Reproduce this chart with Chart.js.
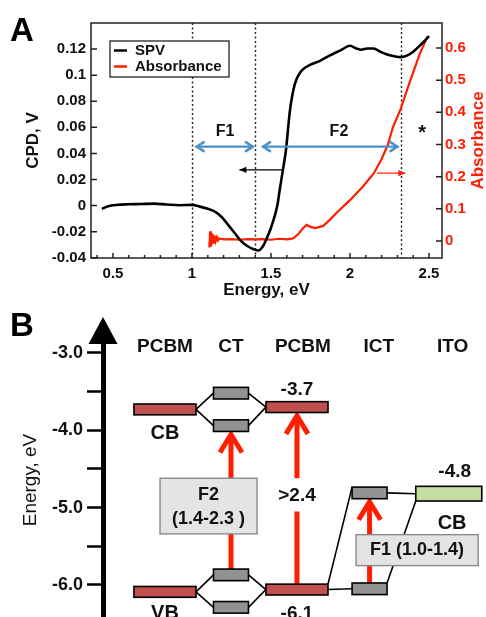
<!DOCTYPE html>
<html>
<head>
<meta charset="utf-8">
<script src="https://cdn.jsdelivr.net/npm/chart.js@4.4.1/dist/chart.umd.min.js"></script>
<style>
  body{margin:0;background:#fff}
  #wrap{position:relative;width:486px;height:617px;overflow:hidden;background:#fff}
  .pane{position:absolute;left:0}
  .letter{position:absolute;font:bold 33px "Liberation Sans",Arial,sans-serif;line-height:1;color:#000}
</style>
</head>
<body>
<div id="wrap">
  <canvas id="chartB" class="pane" style="top:300px" width="486" height="317"></canvas>
  <canvas id="chartA" class="pane" style="top:0" width="486" height="310"></canvas>
  <div class="letter" style="left:10px;top:13px">A</div>
  <div class="letter" style="left:10px;top:308px">B</div>
</div>
<script>
// ─── DATA: PANEL A (SPV + absorbance) ───────────────────────────────
const spvEnergy = [0.43,0.47,0.52,0.60,0.68,0.76,0.84,0.92,1.00,1.05,
                   1.10,1.15,1.19,1.23,1.27,1.31,1.35,1.39,1.42,1.45,
                   1.47,1.50,1.54,1.555,1.575,1.595,1.62,1.65,1.69,1.75,
                   1.81,1.87,1.94,2.00,2.04,2.07,2.11,2.15,2.19,2.23,
                   2.28,2.32,2.36,2.40,2.44,2.47,2.50];
const spvCPD    = [-0.0025,-0.0005,0.0005,0.0010,0.0012,0.0015,0.0008,0.0003,0.0005,-0.0008,
                   -0.0025,-0.0050,-0.0090,-0.0150,-0.0210,-0.0270,-0.0310,-0.0335,-0.0345,-0.0310,
                   -0.0260,-0.0170,0.0000,0.0120,0.0270,0.0430,0.0730,0.0930,0.1030,0.1080,
                   0.1110,0.1150,0.1190,0.1225,0.1205,0.1195,0.1205,0.1205,0.1180,0.1160,
                   0.1145,0.1138,0.1150,0.1180,0.1225,0.1260,0.1300];
const absEnergy = [1.110,1.115,1.120,1.125,1.130,1.135,1.140,1.145,1.150,1.158,
                   1.165,1.172,1.20,1.25,1.30,1.35,1.40,1.45,1.50,1.55,
                   1.60,1.64,1.67,1.70,1.725,1.75,1.78,1.83,1.87,1.92,
                   2.00,2.08,2.15,2.20,2.24,2.27,2.32,2.38,2.44,2.49];
const absValue  = [-0.020,0.030,-0.018,0.025,-0.010,0.020,-0.004,0.016,0.000,0.012,
                   0.002,0.008,0.005,0.006,0.004,0.006,0.005,0.006,0.004,0.007,
                   0.005,0.008,0.020,0.038,0.050,0.044,0.040,0.047,0.065,0.090,
                   0.127,0.169,0.210,0.255,0.300,0.352,0.410,0.497,0.580,0.636];
const xTickLabels = [0.5, 1, 1.5, 2, 2.5];
const cpdTicks = [-0.04, -0.02, 0, 0.02, 0.04, 0.06, 0.08, 0.1, 0.12];
const absTicks = [0, 0.1, 0.2, 0.3, 0.4, 0.5, 0.6];
const regionEdges = [1.0, 1.4, 2.32];          // dotted lines, eV
const bandArrows = [                           // blue double arrows, eV
  {label: 'F1', from: 1.03, to: 1.385, labelAt: 1.21},
  {label: 'F2', from: 1.45, to: 2.30, labelAt: 1.93}
];

// ─── DATA: PANEL B (energy levels, eV) ──────────────────────────────
const columns = ['PCBM', 'CT', 'PCBM', 'ICT', 'ITO'];
const pcbmLeft  = [-3.73, -6.09];              // CB, VB
const pcbmRight = [-3.70, -6.06];              // CB, VB
const ctLevels  = [-3.52, -3.94, -5.87, -6.29];
const ictLevels = [-4.81, -6.05];
const itoLevels = [-4.82];
const energyTicks = [-6.0, -5.5, -5.0, -4.5, -4.0, -3.5, -3.0];
const transitions = [                          // red arrows: column, from, to
  {col: 1, from: -5.87, to: -3.94},
  {col: 2, from: -6.06, to: -3.70},
  {col: 3, from: -6.05, to: -4.81}
];

// ─── LAYOUT / STYLE ─────────────────────────────────────────────────
const FONT = '"Liberation Sans", Arial, Helvetica, sans-serif';
const RED = '#ff1e00';
const colX = [0, 1, 2, 3.1, 4.3];              // column centres (column units)
const headX = [0, 1, 2.09, 3.24, 4.36];
Chart.defaults.font.family = FONT;
Chart.defaults.color = '#111';

function txt(ctx, s, x, y, font, color, align, rot){
  ctx.save();
  ctx.font = font; ctx.fillStyle = color || '#111';
  ctx.textAlign = align || 'center'; ctx.textBaseline = 'middle';
  ctx.translate(x, y); if(rot) ctx.rotate(rot);
  ctx.fillText(s, 0, 0);
  ctx.restore();
}

function arrow(ctx, x0, y0, x1, y1, o){
  ctx.save();
  ctx.strokeStyle = ctx.fillStyle = o.color;
  ctx.lineWidth = o.width; ctx.lineCap = o.cap || 'butt'; ctx.lineJoin = 'miter';
  ctx.beginPath(); ctx.moveTo(x0, y0); ctx.lineTo(x1, y1); ctx.stroke();
  const heads = o.both ? [[x0,y0,x1,y1],[x1,y1,x0,y0]] : [[x0,y0,x1,y1]];
  heads.forEach(([ax,ay,bx,by]) => {
    const ang = Math.atan2(by-ay, bx-ax), c = Math.cos(ang), s = Math.sin(ang);
    ctx.beginPath();
    ctx.moveTo(bx - o.head*c + o.half*s, by - o.head*s - o.half*c);
    ctx.lineTo(bx, by);
    ctx.lineTo(bx - o.head*c - o.half*s, by - o.head*s + o.half*c);
    if(o.filled){ ctx.closePath(); ctx.fill(); } else ctx.stroke();
  });
  ctx.restore();
}

// ─── PANEL A ────────────────────────────────────────────────────────
const panelA = {
  id: 'panelA',
  beforeDatasetsDraw(chart){
    const {ctx, chartArea: a, scales: {x}} = chart;
    ctx.save();
    ctx.strokeStyle = '#222'; ctx.lineWidth = 1.4; ctx.setLineDash([2, 2.5]);
    regionEdges.forEach(e => {
      const px = Math.round(x.getPixelForValue(e)) + 0.5;
      ctx.beginPath(); ctx.moveTo(px, a.top); ctx.lineTo(px, a.bottom); ctx.stroke();
    });
    ctx.restore();
  },
  afterDatasetsDraw(chart){
    const {ctx, chartArea: a, scales: {x, y, y2}} = chart;
    // frame + inward ticks
    ctx.save();
    ctx.strokeStyle = '#222'; ctx.lineWidth = 1.5;
    ctx.strokeRect(a.left, a.top, a.right - a.left, a.bottom - a.top);
    ctx.beginPath();
    for(let k = 4; k <= 25; k++){
      const px = x.getPixelForValue(k/10), len = k % 5 === 0 ? 5 : 3;
      ctx.moveTo(px, a.bottom); ctx.lineTo(px, a.bottom - len);
    }
    cpdTicks.forEach(v => { const py = y.getPixelForValue(v); ctx.moveTo(a.left, py); ctx.lineTo(a.left + 6, py); });
    absTicks.forEach(v => { const py = y2.getPixelForValue(v); ctx.moveTo(a.right, py); ctx.lineTo(a.right - 6, py); });
    ctx.stroke();
    ctx.restore();

    // band arrows F1 / F2
    const yb = y.getPixelForValue(0.0452), yl = y.getPixelForValue(0.0565);
    bandArrows.forEach(b => {
      arrow(ctx, x.getPixelForValue(b.from), yb, x.getPixelForValue(b.to), yb,
            {color: '#4a92c9', width: 2.4, head: 7, half: 4.5, both: true, cap: 'round'});
      txt(ctx, b.label, x.getPixelForValue(b.labelAt), yl, 'bold 16px ' + FONT, '#111');
    });
    // axis pointers
    const yk = y.getPixelForValue(0.0274);
    arrow(ctx, x.getPixelForValue(1.57), yk, x.getPixelForValue(1.30), yk,
          {color: '#000', width: 1.2, head: 7, half: 3.2, filled: true});
    const yr = y2.getPixelForValue(0.211);
    arrow(ctx, x.getPixelForValue(2.17), yr, x.getPixelForValue(2.35), yr,
          {color: RED, width: 1.2, head: 7, half: 3.2, filled: true});
    txt(ctx, '*', x.getPixelForValue(2.456), y.getPixelForValue(0.055), 'bold 20px ' + FONT, '#111');

    // legend box
    const lx = a.left + 19, ly = a.top + 18;
    ctx.save();
    ctx.fillStyle = '#fff'; ctx.fillRect(lx, ly, 119, 36);
    ctx.strokeStyle = '#111'; ctx.lineWidth = 1.2; ctx.strokeRect(lx, ly, 119, 36);
    chart.data.datasets.forEach((ds, i) => {
      const ry = ly + 9.5 + i * 16;
      ctx.strokeStyle = ds.borderColor; ctx.lineWidth = 2.5;
      ctx.beginPath(); ctx.moveTo(lx + 4, ry); ctx.lineTo(lx + 17, ry); ctx.stroke();
      txt(ctx, ds.label, lx + 25, ry, 'bold 15px ' + FONT, '#111', 'left');
    });
    ctx.restore();

    // right axis title (reads bottom-to-top)
    txt(ctx, 'Absorbance', 478, (a.top + a.bottom) / 2, 'bold 17px ' + FONT, RED, 'center', -Math.PI/2);
  }
};

const tickFont = {size: 15, weight: 'bold'};
new Chart(document.getElementById('chartA'), {
  type: 'line',
  data: {
    datasets: [
      {label: 'SPV', data: spvEnergy.map((e, i) => ({x: e, y: spvCPD[i]})),
       borderColor: '#000', borderWidth: 2.6, pointRadius: 0, cubicInterpolationMode: 'monotone', yAxisID: 'y'},
      {label: 'Absorbance', data: absEnergy.map((e, i) => ({x: e, y: absValue[i]})),
       borderColor: RED, borderWidth: 2.2, pointRadius: 0, tension: 0, yAxisID: 'y2'}
    ]
  },
  options: {
    responsive: false, animation: false,
    layout: {padding: {top: 23, left: 0, right: 0, bottom: 0}},
    plugins: {legend: {display: false}, tooltip: {enabled: false}},
    scales: {
      x: {
        type: 'linear', min: 0.361, max: 2.582,
        afterBuildTicks: s => { s.ticks = xTickLabels.map(v => ({value: v})); },
        afterFit: s => { s.height = 52; s.paddingLeft = 0; s.paddingRight = 0; },
        grid: {display: false, drawTicks: false}, border: {display: false},
        ticks: {font: tickFont, color: '#111', padding: 7, autoSkip: false, maxRotation: 0, callback: v => String(v)},
        title: {display: true, text: 'Energy, eV', font: {size: 17, weight: 'bold'}, color: '#111', padding: {top: 0, bottom: 9}}
      },
      y: {
        position: 'left', min: -0.0402, max: 0.14,
        afterBuildTicks: s => { s.ticks = cpdTicks.map(v => ({value: v})); },
        afterFit: s => { s.width = 91; s.paddingTop = 0; s.paddingBottom = 0; },
        grid: {display: false, drawTicks: false}, border: {display: false},
        ticks: {font: tickFont, color: '#111', padding: 5, autoSkip: false, callback: v => String(v)},
        title: {display: true, text: 'CPD, V', font: {size: 17, weight: 'bold'}, color: '#111', padding: {top: 23, bottom: 0}}
      },
      y2: {
        position: 'right', min: -0.0528, max: 0.6777,
        afterBuildTicks: s => { s.ticks = absTicks.map(v => ({value: v})); },
        afterFit: s => { s.width = 44; s.paddingTop = 0; s.paddingBottom = 0; },
        grid: {display: false, drawTicks: false}, border: {display: false},
        ticks: {font: tickFont, color: RED, padding: 3, autoSkip: false, callback: v => String(v)}
      }
    }
  },
  plugins: [panelA]
});

// ─── PANEL B ────────────────────────────────────────────────────────
const panelB = {
  id: 'panelB',
  afterDraw(chart){
    const {ctx, chartArea: a, scales: {x, y}} = chart;
    const X = u => x.getPixelForValue(u), Y = e => y.getPixelForValue(e);
    const B = 'bold 19px ' + FONT;

    // axis arrow head
    ctx.save();
    ctx.fillStyle = '#000';
    const ax = a.left;
    ctx.beginPath(); ctx.moveTo(ax, a.top - 26); ctx.lineTo(ax + 14.5, a.top + 1); ctx.lineTo(ax - 14.5, a.top + 1); ctx.closePath(); ctx.fill();
    ctx.restore();

    // column headers
    columns.forEach((c, i) => txt(ctx, c, X(headX[i]), Y(-2.92), B));

    const hP = 0.14, hG = 0.15, hI = 0.19;      // level heights, eV
    const wP = 0.94, wG = 0.53, wI = 1.0;       // level widths, column units

    // connector lines
    ctx.save();
    ctx.strokeStyle = '#000'; ctx.lineWidth = 1.6;
    const seg = (x0, y0, x1, y1) => { ctx.beginPath(); ctx.moveTo(x0, y0); ctx.lineTo(x1, y1); ctx.stroke(); };
    [[0, 1], [2, 3]].forEach(([up, dn], k) => {
      [ctLevels[up], ctLevels[dn]].forEach(e => {
        seg(X(colX[0] + wP/2), Y(pcbmLeft[k]), X(colX[1] - wG/2), Y(e));
        seg(X(colX[1] + wG/2), Y(e), X(colX[2] - wP/2), Y(pcbmRight[k]));
      });
    });
    const vbR = X(colX[2] + wP/2), ictL = X(colX[3] - wG/2), ictR = X(colX[3] + wG/2), itoL = X(colX[4] - wI/2);
    seg(vbR, Y(pcbmRight[1]), ictL, Y(ictLevels[1]));
    seg(vbR, Y(pcbmRight[1] + hP/2), ictL, Y(ictLevels[0] + hG/2));
    seg(ictR, Y(ictLevels[0]), itoL, Y(itoLevels[0]));
    seg(itoL, Y(itoLevels[0] - hI/2), ictR, Y(ictLevels[1] + hG/2));
    ctx.restore();

    // red transition arrows
    transitions.forEach(t => {
      const px = X(colX[t.col]);
      arrow(ctx, px, Y(t.from), px, Y(t.to - hG/2) + 3,
            {color: RED, width: 5, head: 18, half: 11});
    });

    // level boxes
    const box = (cx, w, e, h, fill) => {
      const x0 = X(cx - w/2), x1 = X(cx + w/2), y0 = Y(e + h/2), y1 = Y(e - h/2);
      ctx.save();
      ctx.fillStyle = fill; ctx.fillRect(x0, y0, x1 - x0, y1 - y0);
      ctx.strokeStyle = '#000'; ctx.lineWidth = 1.6; ctx.strokeRect(x0, y0, x1 - x0, y1 - y0);
      ctx.restore();
    };
    pcbmLeft.forEach(e => box(colX[0], wP, e, hP, '#c0504d'));
    pcbmRight.forEach(e => box(colX[2], wP, e, hP, '#c0504d'));
    ctLevels.forEach(e => box(colX[1], wG, e, hG, '#929292'));
    ictLevels.forEach(e => box(colX[3], wG, e, hG, '#929292'));
    itoLevels.forEach(e => box(colX[4], wI, e, hI, '#c6dda2'));

    // label boxes
    const lbox = (cx, w, e, h) => {
      const x0 = X(cx - w/2), x1 = X(cx + w/2), y0 = Y(e + h/2), y1 = Y(e - h/2);
      ctx.save();
      ctx.fillStyle = '#e4e4e4'; ctx.fillRect(x0, y0, x1 - x0, y1 - y0);
      ctx.strokeStyle = '#8a8a8a'; ctx.lineWidth = 1.4; ctx.strokeRect(x0, y0, x1 - x0, y1 - y0);
      ctx.restore();
    };
    lbox(0.66, 1.47, -4.98, 0.72);
    txt(ctx, 'F2', X(0.66), Y(-4.84), 'bold 18px ' + FONT);
    txt(ctx, '(1.4-2.3 )', X(0.66), Y(-5.15), 'bold 18px ' + FONT);
    lbox(3.82, 1.85, -5.55, 0.40);
    txt(ctx, 'F1 (1.0-1.4)', X(3.82), Y(-5.55), 'bold 18px ' + FONT);

    // ">2.4" sits in a gap of its arrow
    ctx.save(); ctx.fillStyle = '#fff';
    ctx.fillRect(X(colX[2]) - 8, Y(-4.62), 16, Y(-5.05) - Y(-4.62)); ctx.restore();
    txt(ctx, '>2.4', X(colX[2]), Y(-4.85), B);

    // level labels
    txt(ctx, 'CB', X(colX[0]), Y(-4.04), 'bold 20px ' + FONT);
    txt(ctx, 'VB', X(colX[0]), Y(-6.37), 'bold 20px ' + FONT);
    txt(ctx, '-3.7', X(colX[2]), Y(-3.48), B);
    txt(ctx, '-6.1', X(colX[2]), Y(-6.37), B);
    txt(ctx, '-4.8', X(4.39), Y(-4.54), B);
    txt(ctx, 'CB', X(4.35), Y(-5.21), 'bold 20px ' + FONT);
  }
};

new Chart(document.getElementById('chartB'), {
  type: 'scatter',
  data: {datasets: []},
  options: {
    responsive: false, animation: false,
    layout: {padding: {top: 43, left: 0, right: 0, bottom: 0}},
    plugins: {legend: {display: false}, tooltip: {enabled: false}},
    scales: {
      x: {type: 'linear', display: false, min: -0.939, max: 4.864},
      y: {
        position: 'left', min: -6.415, max: -2.871,
        afterBuildTicks: s => { s.ticks = energyTicks.map(v => ({value: v})); },
        afterFit: s => { s.width = 103; s.paddingTop = 0; s.paddingBottom = 0; },
        grid: {display: true, drawOnChartArea: false, drawTicks: true, tickLength: 16, tickWidth: 2.5, tickColor: '#000'},
        border: {display: true, color: '#000', width: 5},
        ticks: {font: {size: 18, weight: 'bold'}, color: '#111', padding: 4, autoSkip: false,
                callback: v => Number.isInteger(v) ? v.toFixed(1) : ''},
        title: {display: true, text: 'Energy, eV', font: {size: 19, weight: 'normal'}, color: '#111', padding: {top: 19, bottom: 0}}
      }
    }
  },
  plugins: [panelB]
});
</script>
</body>
</html>
